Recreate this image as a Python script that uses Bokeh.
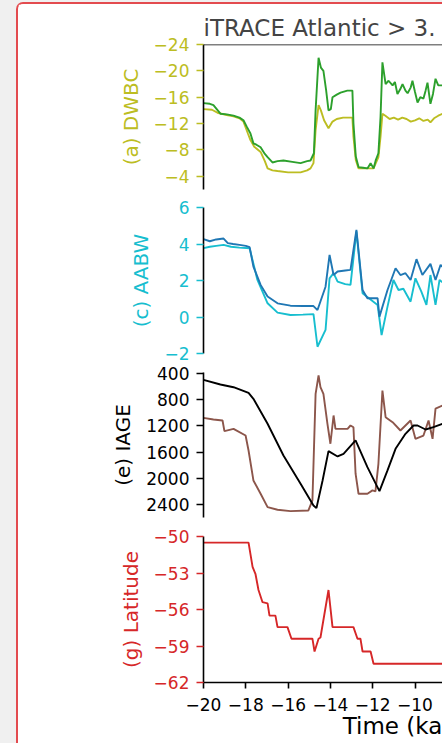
from bokeh.plotting import figure
from bokeh.layouts import column
from bokeh.models import Range1d, FixedTicker, CustomJSTickFormatter, Span
from bokeh.embed import file_html
from bokeh.resources import INLINE

FONT = "DejaVu Sans"

# ---------------- data ----------------
x_ticks = [-20, -18, -16, -14, -12, -10, -8]

dwbc_ticks = [-24, -20, -16, -12, -8, -4]
dwbc_green_t = [-20.00, -19.70, -19.53, -19.20, -18.90, -18.58, -18.30, -18.11, -17.95, -17.78,
                -17.64, -17.50, -17.30, -17.10, -16.97, -16.74, -16.50, -16.22, -15.80, -15.41,
                -15.10, -14.94, -14.78, -14.70, -14.56, -14.45, -14.33, -14.20, -14.09, -13.98,
                -13.90, -13.70, -13.52, -13.20, -12.96, -12.91, -12.80, -12.67, -12.45, -12.25,
                -12.10, -11.96, -11.85, -11.73, -11.63, -11.54, -11.39, -11.25, -11.06, -10.95,
                -10.83, -10.70, -10.59, -10.45, -10.35, -10.20, -10.12, -10.00, -9.88, -9.75,
                -9.60, -9.50, -9.41, -9.27, -9.15, -9.03, -8.90, -8.70]
dwbc_green_v = [-15.1, -15.0, -14.8, -13.5, -13.4, -13.2, -12.9, -12.5, -11.5, -10.5,
                -9.0, -8.8, -8.4, -7.4, -6.9, -6.1, -6.3, -6.4, -6.2, -6.0,
                -6.3, -6.4, -7.5, -14.0, -22.0, -20.5, -20.0, -17.0, -14.0, -14.2,
                -16.0, -16.4, -16.7, -17.0, -17.0, -12.0, -7.0, -5.4, -5.3, -5.2,
                -6.0, -5.2, -6.5, -7.5, -13.0, -21.3, -18.0, -18.5, -17.8, -18.3,
                -16.5, -17.2, -18.0, -17.0, -16.6, -17.5, -18.5, -16.8, -15.2, -16.0,
                -15.8, -17.0, -18.2, -15.0, -16.5, -18.8, -17.8, -17.8]
dwbc_olive_t = [-20.00, -19.60, -19.30, -18.90, -18.58, -18.30, -18.11, -17.90, -17.78, -17.60,
                -17.30, -17.10, -16.97, -16.74, -16.50, -16.00, -15.41, -15.10, -14.94, -14.80,
                -14.70, -14.56, -14.45, -14.30, -14.09, -13.90, -13.70, -13.40, -12.96, -12.91,
                -12.80, -12.67, -12.30, -11.96, -11.73, -11.63, -11.54, -11.40, -11.20, -11.00,
                -10.80, -10.60, -10.40, -10.20, -10.00, -9.80, -9.60, -9.40, -9.27, -9.10,
                -8.90, -8.70]
dwbc_olive_v = [-14.2, -14.1, -13.6, -13.3, -13.1, -12.8, -12.3, -10.5, -9.5, -8.5,
                -7.7, -6.3, -5.2, -4.9, -4.8, -4.6, -4.6, -4.9, -5.2, -6.0,
                -11.0, -14.8, -14.0, -12.5, -11.3, -12.3, -12.7, -12.9, -12.9, -10.0,
                -6.5, -5.2, -5.2, -5.2, -6.9, -10.0, -13.5, -13.2, -12.7, -12.9,
                -12.6, -12.9, -12.7, -12.3, -12.5, -12.8, -12.4, -12.6, -12.2, -12.8,
                -13.2, -13.5]

aabw_ticks = [-2, 0, 2, 4, 6]
aabw_blue_t = [-20.00, -19.70, -19.40, -19.05, -18.85, -18.60, -18.30, -18.00, -17.82, -17.64,
               -17.30, -16.97, -16.50, -15.89, -15.30, -14.80, -14.61, -14.23, -14.04, -13.85,
               -13.66, -13.30, -13.05, -12.77, -12.48, -12.25, -11.77, -11.68, -11.30, -10.92,
               -10.69, -10.45, -10.21, -9.93, -9.65, -9.27, -9.03, -8.79, -8.70]
aabw_blue_v = [4.27, 4.15, 4.25, 4.30, 4.05, 4.00, 3.95, 3.90, 3.83, 2.76,
               1.76, 1.12, 0.75, 0.62, 0.60, 0.60, 0.38, 1.66, 3.40, 2.30,
               2.49, 2.55, 2.58, 4.78, 1.48, 1.03, 1.03, 0.02, 1.48, 2.67,
               2.30, 2.40, 2.03, 3.17, 2.30, 2.91, 2.03, 2.86, 2.75]
aabw_cyan_t = [-20.00, -19.70, -19.40, -19.05, -18.70, -18.30, -17.82, -17.45, -16.97, -16.50,
               -15.89, -15.30, -14.80, -14.61, -14.23, -14.04, -13.85, -13.66, -13.30, -13.05,
               -12.77, -12.48, -11.77, -11.58, -11.30, -11.02, -10.78, -10.55, -10.21, -9.98,
               -9.70, -9.46, -9.27, -9.03, -8.84, -8.70]
aabw_cyan_v = [3.77, 3.85, 3.90, 3.95, 3.85, 3.80, 3.77, 2.03, 0.75, 0.24,
               0.11, 0.13, 0.16, -1.63, -0.71, 2.12, 2.40, 1.94, 1.80, 1.76,
               4.69, 1.30, 0.66, -0.99, 0.57, 2.03, 1.48, 1.55, 0.84, 2.12,
               1.39, 0.66, 2.30, 0.66, 2.03, 1.90]

iage_ticks = [400, 800, 1200, 1600, 2000, 2400]
iage_black_t = [-20.00, -19.20, -18.58, -17.87, -17.64, -16.97, -16.22, -15.41, -14.80, -14.66,
                -14.37, -14.09, -13.66, -13.38, -12.81, -12.25, -11.68, -11.30, -10.92, -10.45,
                -10.07, -9.88, -9.50, -9.13, -8.70]
iage_black_v = [497, 568, 609, 695, 786, 1168, 1652, 2085, 2416, 2457,
                2034, 1586, 1667, 1626, 1423, 1831, 2197, 1881, 1550, 1321,
                1194, 1194, 1255, 1220, 1170]
iage_brown_t = [-20.00, -19.53, -19.10, -19.01, -18.58, -18.01, -17.87, -17.64, -17.30, -16.97,
                -16.50, -15.89, -15.04, -14.85, -14.70, -14.56, -14.47, -14.33, -14.14, -14.00,
                -13.85, -13.76, -13.19, -13.05, -12.91, -12.81, -12.67, -12.25, -12.01, -11.87,
                -11.73, -11.54, -11.39, -11.06, -10.69, -10.21, -9.98, -9.60, -9.36, -9.17,
                -9.03, -8.70]
iage_brown_v = [1077, 1103, 1118, 1281, 1245, 1347, 1576, 2034, 2237, 2441,
                2482, 2502, 2492, 2339, 710, 430, 609, 710, 1168, 1473,
                1041, 1245, 1245, 1194, 1220, 1931, 2237, 2237, 2186, 2200,
                1779, 660, 1067, 1143, 1270, 1118, 1397, 1347, 1118, 1397,
                936, 889]

lat_ticks = [-62, -59, -56, -53, -50]
lat_t = [-20.00, -17.87, -17.68, -17.54, -17.40, -17.21, -16.97, -16.88, -16.60, -16.50,
         -16.03, -15.84, -14.85, -14.75, -14.56, -14.47, -14.09, -13.90, -12.91, -12.72,
         -12.58, -12.48, -12.10, -11.96, -8.70]
lat_v = [-50.5, -50.5, -52.5, -53.1, -54.4, -55.4, -55.5, -56.5, -56.5, -57.45,
         -57.45, -58.4, -58.4, -59.45, -58.4, -58.3, -54.4, -57.45, -57.45, -58.4,
         -58.4, -59.45, -59.45, -60.46, -60.46]

title_text = "iTRACE Atlantic > 3."
xlabel_text = "Time (ka"

# ---------------- styling ----------------
OLIVE = "#bcbd22"
GREEN = "#2ca02c"
CYAN = "#17becf"
BLUE = "#1f77b4"
BROWN = "#8c564b"
RED = "#d62728"
LW = 1.9

minus_fmt = CustomJSTickFormatter(code="""
    return tick < 0 ? "\\u2212" + Math.abs(tick).toString() : tick.toString();
""")

x_range = Range1d(-20, -8.70)


def panel(height, top, bottom, y_start, y_end, ticks, color, label, with_x=False):
    p = figure(width=424, height=height, x_range=x_range,
               y_range=Range1d(y_start, y_end),
               output_backend="svg", toolbar_location=None,
               x_axis_location="below" if with_x else None,
               min_border_left=185, min_border_right=0,
               min_border_top=top, min_border_bottom=bottom)
    p.grid.visible = False
    p.outline_line_color = None
    p.background_fill_color = "white"
    p.border_fill_color = "white"
    ax = p.yaxis[0]
    ax.ticker = FixedTicker(ticks=ticks)
    ax.formatter = minus_fmt
    ax.axis_line_color = "black"
    ax.axis_line_width = 1.6
    ax.major_tick_line_color = color
    ax.major_tick_line_width = 1.6
    ax.major_tick_out = 7
    ax.major_tick_in = 0
    ax.minor_tick_line_color = None
    ax.major_label_text_color = color
    ax.major_label_text_font = FONT
    ax.major_label_text_font_size = "17px"
    ax.major_label_standoff = 7
    ax.axis_label = label
    ax.axis_label_text_color = color
    ax.axis_label_text_font = FONT
    ax.axis_label_text_font_size = "20px"
    ax.axis_label_text_font_style = "normal"
    ax.axis_label_standoff = 8
    if with_x:
        xa = p.xaxis[0]
        xa.ticker = FixedTicker(ticks=x_ticks)
        xa.formatter = minus_fmt
        xa.axis_line_color = "black"
        xa.axis_line_width = 1.6
        xa.major_tick_line_color = "black"
        xa.major_tick_line_width = 1.6
        xa.major_tick_out = 6
        xa.major_tick_in = 0
        xa.minor_tick_line_color = None
        xa.major_label_text_color = "black"
        xa.major_label_text_font = FONT
        xa.major_label_text_font_size = "17px"
        xa.major_label_standoff = 9
        # the reference's axis title is centred on a wider axis and cut off on the right;
        # leading no-break spaces shift the visible part to where it sits in the reference
        xa.axis_label = "\u00a0" * 19 + xlabel_text
        xa.axis_label_text_font = FONT
        xa.axis_label_text_font_size = "23px"
        xa.axis_label_text_font_style = "normal"
        xa.axis_label_text_color = "black"
        xa.axis_label_standoff = -1
    return p


p1 = panel(194, 40, 9, -2.0, -24.0, dwbc_ticks, OLIVE, "(a) DWBC")
p1.line(dwbc_olive_t, dwbc_olive_v, line_color=OLIVE, line_width=LW)
p1.line(dwbc_green_t, dwbc_green_v, line_color=GREEN, line_width=LW)
p1.add_layout(Span(location=-24.0, dimension="width", line_color="black", line_width=1.6))
p1.title.text = title_text
p1.title.text_font = FONT
p1.title.text_font_size = "23px"
p1.title.text_font_style = "normal"
p1.title.align = "left"
p1.title.standoff = 8

p2 = panel(165, 9, 10, -2.0, 6.0, aabw_ticks, CYAN, "(c) AABW")
p2.line(aabw_cyan_t, aabw_cyan_v, line_color=CYAN, line_width=LW)
p2.line(aabw_blue_t, aabw_blue_v, line_color=BLUE, line_width=LW)

p3 = panel(164, 9, 10, 2600, 384, iage_ticks, "black", "(e) IAGE")
p3.line(iage_brown_t, iage_brown_v, line_color=BROWN, line_width=LW)
p3.line(iage_black_t, iage_black_v, line_color="black", line_width=LW)

p4 = panel(216, 9, 61, -62.0, -50.0, lat_ticks, RED, "(g) Latitude", with_x=True)
p4.line(lat_t, lat_v, line_color=RED, line_width=LW)

inner = column(p1, p2, p3, p4, spacing=0,
               styles={"margin-left": "16px", "margin-top": "2px",
                       "border-left": "2px solid #e34b4f",
                       "border-top": "2px solid #e34b4f",
                       "border-top-left-radius": "7px",
                       "background-color": "white"})
layout = column(inner, spacing=0, styles={"background-color": "#f0f0f0"})

open("out.html", "w").write(file_html(layout, INLINE))
